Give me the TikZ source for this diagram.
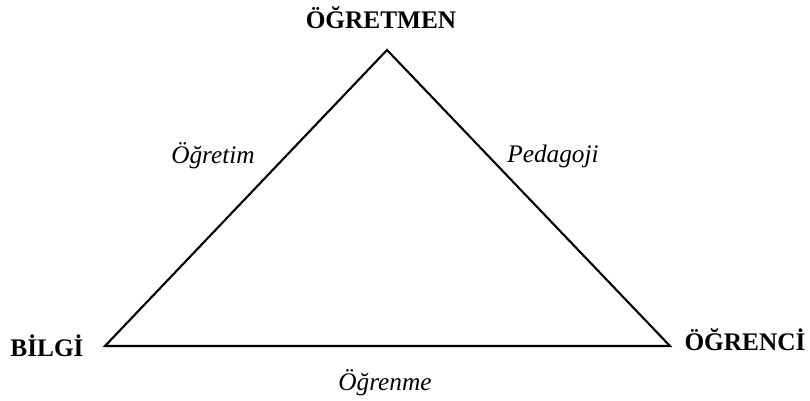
\documentclass[tikz,border=0pt]{standalone}
\usepackage{fontspec}
\setmainfont{Liberation Serif}
\usetikzlibrary{positioning}
\tikzset{
    corner/.style={font=\fontsize{18}{20}\selectfont\bfseries, inner sep=0pt},
    side/.style={font=\fontsize{18}{20}\selectfont\itshape, inner sep=0pt},
    edge/.style={line width=1.5pt, line join=miter}
}

\begin{document}
\begin{tikzpicture}[x=0.025cm, y=-0.025cm]
        \useasboundingbox (0,0) rectangle (810,401);
        % corners of the triangle
        \coordinate (top) at (387,50);
        \coordinate (left) at (105,346);
        \coordinate (right) at (670,346);
        \draw[edge] (top) -- (right) -- (left) -- cycle;

        \node[corner] (teacher) at (381,18) {ÖĞRETMEN};
        \node[corner] (know) at (47,346) {BİLGİ};
        \node[corner] (student) at (745,340) {ÖĞRENCİ};

        \node[side] (teach) at (213,156) {Öğretim};
        \node[side] (peda) at (553,156) {Pedagoji};
        \node[side] (learn) at (385,383) {Öğrenme};
    \end{tikzpicture}
\end{document}
